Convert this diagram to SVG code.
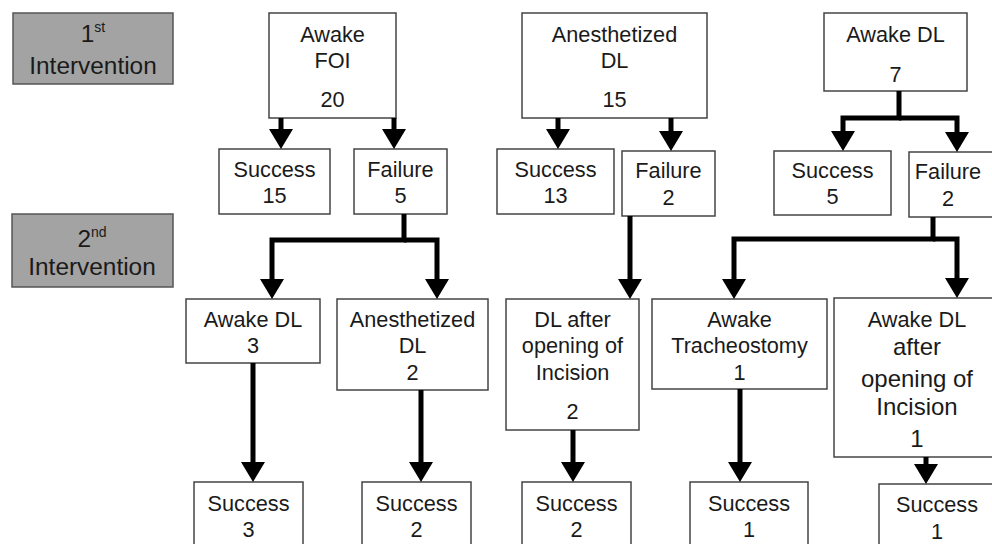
<svg xmlns="http://www.w3.org/2000/svg" width="992" height="544" viewBox="0 0 992 544">
<style>
  text { font-family: "Liberation Sans", Arial, sans-serif; fill: #1a1a1a; text-anchor: middle; font-size: 21.7px; }
  .box { fill: #ffffff; stroke: #444444; stroke-width: 1.5; }
  .lbl { fill: #a3a3a3; stroke: #555555; stroke-width: 1.5; }
  .lt { font-size: 24.4px; }
  .big { font-size: 24px; }
  .sup { font-size: 14px; }
  .conn { fill: none; stroke: #000000; stroke-width: 5; stroke-linejoin: miter; }
</style>
<defs>
  <marker id="ah" markerUnits="userSpaceOnUse" markerWidth="20" markerHeight="24" refX="2" refY="12" orient="auto" overflow="visible">
    <path d="M0,0 L20,12 L0,24 z" fill="#000000"/>
  </marker>
</defs>
<rect width="992" height="544" fill="#ffffff"/>

<g id="label-1st">
  <rect class="lbl" x="13" y="13" width="160" height="71"/>
  <text class="lt" x="93" y="42">1<tspan class="sup" dy="-10">st</tspan></text>
  <text class="lt" x="93" y="74">Intervention</text>
</g>
<g id="label-2nd">
  <rect class="lbl" x="12" y="214" width="161" height="73"/>
  <text class="lt" x="92" y="247">2<tspan class="sup" dy="-10">nd</tspan></text>
  <text class="lt" x="92" y="275">Intervention</text>
</g>

<g id="awake-foi">
  <rect class="box" x="269" y="13" width="127" height="105"/>
  <text x="332.5" y="42">Awake</text>
  <text x="332.5" y="68">FOI</text>
  <text x="332.5" y="107">20</text>
</g>
<g id="anesth-dl">
  <rect class="box" x="522" y="13" width="185" height="105"/>
  <text x="614.5" y="42">Anesthetized</text>
  <text x="614.5" y="68">DL</text>
  <text x="614.5" y="107">15</text>
</g>
<g id="awake-dl">
  <rect class="box" x="824" y="13" width="143" height="78"/>
  <text x="895.5" y="42">Awake DL</text>
  <text x="895.5" y="82">7</text>
</g>

<g id="success-15">
  <rect class="box" x="219" y="149" width="111" height="65"/>
  <text x="274.5" y="177">Success</text>
  <text x="274.5" y="203">15</text>
</g>
<g id="failure-5">
  <rect class="box" x="354" y="149" width="93" height="65"/>
  <text x="400.5" y="177">Failure</text>
  <text x="400.5" y="203">5</text>
</g>
<g id="success-13">
  <rect class="box" x="497" y="149" width="117" height="65"/>
  <text x="555.5" y="177">Success</text>
  <text x="555.5" y="203">13</text>
</g>
<g id="failure-2a">
  <rect class="box" x="622" y="151" width="93" height="65"/>
  <text x="668.5" y="178">Failure</text>
  <text x="668.5" y="205">2</text>
</g>
<g id="success-5">
  <rect class="box" x="774" y="151" width="117" height="64"/>
  <text x="832.5" y="178">Success</text>
  <text x="832.5" y="204">5</text>
</g>
<g id="failure-2b">
  <rect class="box" x="909" y="152" width="92" height="65"/>
  <text x="948" y="179">Failure</text>
  <text x="948" y="206">2</text>
</g>

<g id="awake-dl-3">
  <rect class="box" x="186" y="299" width="134" height="64"/>
  <text x="253" y="327">Awake DL</text>
  <text x="253" y="353">3</text>
</g>
<g id="anesth-dl-2">
  <rect class="box" x="337" y="299" width="151" height="91"/>
  <text x="412.5" y="327">Anesthetized</text>
  <text x="412.5" y="353">DL</text>
  <text x="412.5" y="380">2</text>
</g>
<g id="dl-after-incision">
  <rect class="box" x="506" y="299" width="133" height="131"/>
  <text x="572.5" y="327">DL after</text>
  <text x="572.5" y="353">opening of</text>
  <text x="572.5" y="380">Incision</text>
  <text x="572.5" y="419">2</text>
</g>
<g id="awake-tracheostomy">
  <rect class="box" x="652" y="299" width="175" height="90"/>
  <text x="739.5" y="327">Awake</text>
  <text x="739.5" y="353">Tracheostomy</text>
  <text x="739.5" y="380">1</text>
</g>
<g id="awake-dl-after-incision">
  <rect class="box" x="834" y="298" width="168" height="159"/>
  <text x="917" y="327">Awake DL</text>
  <text class="big" x="917" y="355">after</text>
  <text class="big" x="917" y="387">opening of</text>
  <text class="big" x="917" y="415">Incision</text>
  <text class="big" x="917" y="447">1</text>
</g>

<g id="success-3">
  <rect class="box" x="194" y="482" width="109" height="80"/>
  <text x="248.5" y="511">Success</text>
  <text x="248.5" y="537">3</text>
</g>
<g id="success-2a">
  <rect class="box" x="362" y="482" width="109" height="80"/>
  <text x="416.5" y="511">Success</text>
  <text x="416.5" y="537">2</text>
</g>
<g id="success-2b">
  <rect class="box" x="522" y="482" width="109" height="80"/>
  <text x="576.5" y="511">Success</text>
  <text x="576.5" y="537">2</text>
</g>
<g id="success-1a">
  <rect class="box" x="690" y="482" width="118" height="80"/>
  <text x="749" y="511">Success</text>
  <text x="749" y="537">1</text>
</g>
<g id="success-1b">
  <rect class="box" x="879" y="484" width="120" height="80"/>
  <text x="937" y="512">Success</text>
  <text x="937" y="539">1</text>
</g>

<g id="connectors">
  <path class="conn" marker-end="url(#ah)" d="M281,118 V131"/>
  <path class="conn" marker-end="url(#ah)" d="M394,118 V131"/>
  <path class="conn" marker-end="url(#ah)" d="M558,118 V131"/>
  <path class="conn" marker-end="url(#ah)" d="M671,118 V133"/>
  <path class="conn" marker-end="url(#ah)" d="M899,91 V118 H843 V133"/>
  <path class="conn" marker-end="url(#ah)" d="M899,118 H957 V134"/>
  <path class="conn" marker-end="url(#ah)" d="M404,214 V240 H272 V281"/>
  <path class="conn" marker-end="url(#ah)" d="M404,240 H437 V281"/>
  <path class="conn" marker-end="url(#ah)" d="M630,216 V281"/>
  <path class="conn" marker-end="url(#ah)" d="M933,217 V239 H734 V281"/>
  <path class="conn" marker-end="url(#ah)" d="M933,239 H957 V280"/>
  <path class="conn" marker-end="url(#ah)" d="M253,363 V464"/>
  <path class="conn" marker-end="url(#ah)" d="M421,390 V464"/>
  <path class="conn" marker-end="url(#ah)" d="M573,430 V464"/>
  <path class="conn" marker-end="url(#ah)" d="M740,389 V464"/>
  <path class="conn" marker-end="url(#ah)" d="M926,457 V466"/>
</g>
</svg>
